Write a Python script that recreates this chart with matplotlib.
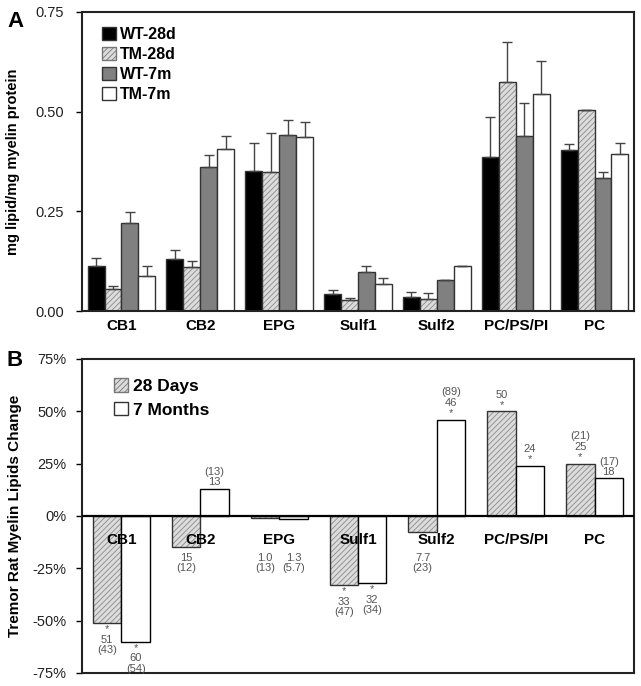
import numpy as np
import matplotlib.pyplot as plt
from matplotlib.patches import Patch

plt.rcParams['font.family'] = ['Liberation Sans', 'DejaVu Sans']
plt.rcParams['hatch.linewidth'] = 0.6

# ---- data ----
lipids = ["CB1", "CB2", "EPG", "Sulf1", "Sulf2", "PC/PS/PI", "PC"]
groups = ["WT-28d", "TM-28d", "WT-7m", "TM-7m"]

wt_28d = [0.114, 0.130, 0.351, 0.042, 0.036, 0.385, 0.404]
tm_28d = [0.055, 0.111, 0.348, 0.028, 0.031, 0.574, 0.504]
wt_7m = [0.220, 0.360, 0.441, 0.097, 0.077, 0.439, 0.333]
tm_7m = [0.088, 0.406, 0.437, 0.067, 0.113, 0.544, 0.393]

wt_28d_err = [0.018, 0.023, 0.071, 0.011, 0.012, 0.101, 0.014]
tm_28d_err = [0.008, 0.014, 0.099, 0.005, 0.013, 0.101, 0.001]
wt_7m_err = [0.028, 0.031, 0.038, 0.016, 0.001, 0.083, 0.015]
tm_7m_err = [0.025, 0.033, 0.036, 0.017, 0.001, 0.083, 0.028]

change_28d = [-51, -15, -1.0, -33, -7.7, 50, 25]
change_7m = [-60, 13, -1.3, -32, 46, 24, 18]

ann_28d = ["*\n51\n(43)", "15\n(12)", "1.0\n(13)", "*\n33\n(47)", "7.7\n(23)", "50\n*", "(21)\n25\n*"]
ann_7m = ["*\n60\n(54)", "(13)\n13", "1.3\n(5.7)", "*\n32\n(34)", "(89)\n46\n*", "24\n*", "(17)\n18"]

fig = plt.figure(figsize=(6.41, 6.86), dpi=100)
axA = fig.add_axes([0.128, 0.5466, 0.861, 0.436])
axB = fig.add_axes([0.128, 0.019, 0.861, 0.4577])

x = np.arange(len(lipids))
edge = '#333333'
hatch_face = '#dcdcdc'


def hatched_bar(ax, xs, h, w, **kw):
    # hatch layer, then outline on top
    ax.bar(xs, h, w, color=hatch_face, edgecolor='#8a8a8a', hatch='//////', lw=0, **kw)
    ax.bar(xs, h, w, facecolor='none', edgecolor=edge, lw=1.0, **kw)


# ---- panel A ----
w = 0.215
series = [wt_28d, tm_28d, wt_7m, tm_7m]
errs = [wt_28d_err, tm_28d_err, wt_7m_err, tm_7m_err]
faces = ['black', None, '#808080', 'white']
for i, (vals, err, fc) in enumerate(zip(series, errs, faces)):
    xs = x + (i - 1.5) * w
    if fc is None:
        hatched_bar(axA, xs, vals, w, zorder=2)
    else:
        axA.bar(xs, vals, w, color=fc, edgecolor=edge, lw=1.0, zorder=2)
    axA.errorbar(xs, vals, yerr=[np.zeros(len(vals)), err], fmt='none',
                 ecolor='#444444', elinewidth=1.0, capsize=3.5, capthick=1.0, zorder=3)

axA.set_xlim(-0.5, 6.5)
axA.set_ylim(0, 0.75)
axA.set_yticks([0, 0.25, 0.5, 0.75])
axA.set_yticklabels(["0.00", "0.25", "0.50", "0.75"], fontsize=10.5, color='#222222')
axA.set_xticks(x)
axA.set_xticklabels(lipids, fontsize=11, fontweight='bold')
axA.tick_params(axis='x', length=0, pad=6)
axA.tick_params(axis='y', length=4, width=1, direction='out', pad=9)
axA.set_ylabel("mg lipid/mg myelin protein", fontsize=10.5, fontweight='bold')
axA.yaxis.set_label_coords(-0.113, 0.5)
for s in axA.spines.values():
    s.set_linewidth(1.5)
    s.set_color('#222222')

handlesA = [Patch(facecolor='black', edgecolor=edge),
            Patch(facecolor=hatch_face, edgecolor='#777777', hatch='//////'),
            Patch(facecolor='#808080', edgecolor=edge),
            Patch(facecolor='white', edgecolor=edge)]
axA.legend(handlesA, groups, loc='upper left', bbox_to_anchor=(0.025, 0.97), frameon=False,
           prop={'weight': 'bold', 'size': 11.5}, handlelength=0.85, handleheight=0.85,
           handletextpad=0.25, labelspacing=0.3, borderaxespad=0)
fig.text(0.012, 0.968, "A", fontsize=16, fontweight='bold', va='center')

# ---- panel B ----
wb = 0.36
hatched_bar(axB, x - wb / 2, change_28d, wb, zorder=2)
axB.bar(x + wb / 2, change_7m, wb, color='white', edgecolor='black', lw=1.0, zorder=2)
axB.axhline(0, color='black', lw=1.6, zorder=4)

ann_kw = dict(fontsize=8, color='#555555', ha='center', linespacing=1.05, zorder=5)
for xs, vals, texts in [(x - wb / 2, change_28d, ann_28d), (x + wb / 2, change_7m, ann_7m)]:
    for xi, v, t in zip(xs, vals, texts):
        if v >= 0:
            axB.annotate(t, (xi, v), xytext=(0, 1), textcoords='offset points', va='bottom', **ann_kw)
        else:
            axB.annotate(t, (xi, min(v, -17)), xytext=(0, -1), textcoords='offset points', va='top', **ann_kw)

for xi, lab in zip(x, lipids):
    axB.text(xi, -11.5, lab, fontsize=11, fontweight='bold', ha='center', va='center', zorder=6)

axB.set_xlim(-0.5, 6.5)
axB.set_ylim(-75, 75)
axB.set_yticks([-75, -50, -25, 0, 25, 50, 75])
axB.set_yticklabels([f"{t}%" for t in [-75, -50, -25, 0, 25, 50, 75]], fontsize=10.5, color='#222222')
axB.set_xticks([])
axB.tick_params(axis='y', length=4, width=1, direction='out', pad=7)
axB.set_ylabel("Tremor Rat Myelin Lipids Change", fontsize=11, fontweight='bold')
axB.yaxis.set_label_coords(-0.108, 0.5)
for s in axB.spines.values():
    s.set_linewidth(1.5)
    s.set_color('#222222')

handlesB = [Patch(facecolor=hatch_face, edgecolor='#777777', hatch='//////'),
            Patch(facecolor='white', edgecolor=edge)]
axB.legend(handlesB, ["28 Days", "7 Months"], loc='upper left', bbox_to_anchor=(0.045, 0.96),
           frameon=False, prop={'weight': 'bold', 'size': 12.5}, handlelength=0.8,
           handleheight=0.8, handletextpad=0.3, labelspacing=0.45, borderaxespad=0)
fig.text(0.01, 0.474, "B", fontsize=16, fontweight='bold', va='center')

fig.savefig("out.png", dpi=100)
